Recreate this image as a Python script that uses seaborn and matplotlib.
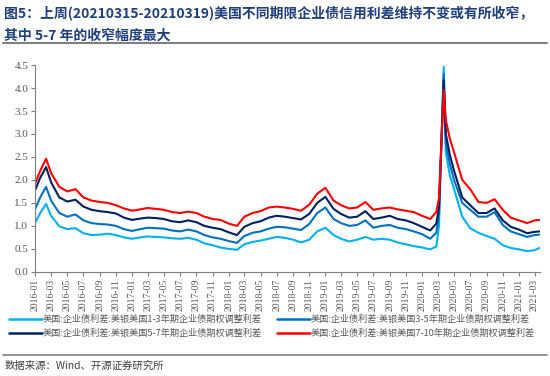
import pandas as pd
import matplotlib.pyplot as plt
import matplotlib.dates as mdates
import seaborn as sns

# dates (monthly, with extra points around the 2016-02 and 2020-03 peaks)
dates = (["2016-01-01", "2016-01-20", "2016-02-11"]
         + [f"2016-{m:02d}-01" for m in range(3, 13)]
         + [f"{y}-{m:02d}-01" for y in (2017, 2018, 2019) for m in range(1, 13)]
         + ["2020-01-01", "2020-02-01", "2020-02-24", "2020-03-05", "2020-03-23",
            "2020-03-31", "2020-04-15"]
         + [f"2020-{m:02d}-01" for m in range(5, 13)]
         + ["2021-01-01", "2021-02-01", "2021-03-01", "2021-03-19"])

oas_1_3 = [1.07, 1.28, 1.48,
           1.22, 0.99, 0.93, 0.95, 0.84, 0.80, 0.81, 0.83, 0.80, 0.75,
           0.72, 0.75, 0.77, 0.76, 0.75, 0.73, 0.72, 0.74, 0.70, 0.62, 0.58, 0.53,
           0.50, 0.48, 0.60, 0.65, 0.68, 0.72, 0.76, 0.74, 0.70, 0.64, 0.70, 0.88,
           0.96, 0.80, 0.72, 0.66, 0.70, 0.76, 0.70, 0.72, 0.70, 0.64, 0.60, 0.56,
           0.53, 0.49, 0.55, 1.00, 4.46, 2.60, 2.10,
           1.80, 1.20, 0.95, 0.85, 0.78, 0.72, 0.58, 0.52,
           0.49, 0.45, 0.47, 0.52]

oas_3_5 = [1.37, 1.62, 1.85,
           1.55, 1.28, 1.20, 1.25, 1.12, 1.06, 1.04, 1.03, 1.00, 0.93,
           0.89, 0.93, 0.96, 0.95, 0.94, 0.90, 0.88, 0.92, 0.88, 0.80, 0.75, 0.72,
           0.67, 0.63, 0.78, 0.85, 0.88, 0.94, 0.98, 0.97, 0.94, 0.91, 1.04, 1.28,
           1.40, 1.15, 1.06, 1.00, 1.02, 1.12, 0.96, 1.00, 1.02, 0.96, 0.93, 0.88,
           0.82, 0.72, 0.85, 1.25, 4.30, 2.80, 2.35,
           2.00, 1.50, 1.35, 1.20, 1.20, 1.30, 1.02, 0.88,
           0.82, 0.76, 0.80, 0.81]

oas_5_7 = [1.78, 2.05, 2.28,
           1.95, 1.62, 1.53, 1.57, 1.42, 1.35, 1.32, 1.30, 1.27, 1.18,
           1.13, 1.16, 1.18, 1.17, 1.15, 1.10, 1.08, 1.12, 1.08, 1.00, 0.96, 0.93,
           0.86, 0.80, 0.98, 1.06, 1.10, 1.18, 1.22, 1.20, 1.17, 1.14, 1.26, 1.50,
           1.63, 1.37, 1.26, 1.18, 1.20, 1.32, 1.15, 1.18, 1.22, 1.15, 1.12, 1.06,
           0.98, 0.90, 1.05, 1.40, 4.17, 3.00, 2.55,
           2.20, 1.62, 1.45, 1.28, 1.28, 1.38, 1.12, 0.98,
           0.92, 0.84, 0.87, 0.88]

oas_7_10 = [1.93, 2.20, 2.46,
            2.15, 1.85, 1.75, 1.80, 1.62, 1.55, 1.52, 1.50, 1.45, 1.38,
            1.33, 1.36, 1.39, 1.37, 1.35, 1.30, 1.28, 1.31, 1.28, 1.20, 1.15, 1.13,
            1.05, 1.00, 1.20, 1.28, 1.32, 1.40, 1.42, 1.40, 1.37, 1.33, 1.46, 1.70,
            1.83, 1.55, 1.45, 1.38, 1.40, 1.52, 1.35, 1.38, 1.40, 1.36, 1.33, 1.30,
            1.22, 1.15, 1.30, 1.60, 3.96, 3.30, 2.90,
            2.60, 2.00, 1.80, 1.52, 1.50, 1.58, 1.35, 1.18,
            1.12, 1.06, 1.12, 1.13]

labels = ["美国:企业债利差:美银美国1-3年期企业债期权调整利差",
          "美国:企业债利差:美银美国3-5年期企业债期权调整利差",
          "美国:企业债利差:美银美国5-7年期企业债期权调整利差",
          "美国:企业债利差:美银美国7-10年期企业债期权调整利差"]
colors = ["#00B0F0", "#0070C0", "#002060", "#FF0000"]

df = pd.DataFrame({"date": pd.to_datetime(dates)})
for lab, vals in zip(labels, [oas_1_3, oas_3_5, oas_5_7, oas_7_10]):
    df[lab] = vals
long_df = df.melt(id_vars="date", var_name="series", value_name="spread")

sns.set_style("white")
plt.rcParams['font.family'] = ['Noto Sans CJK SC', 'DejaVu Sans']

fig = plt.figure(figsize=(5.5, 3.76), dpi=100)
ax = fig.add_axes([0.064, 0.277, 0.918, 0.55])

sns.lineplot(data=long_df, x="date", y="spread", hue="series", hue_order=labels,
             palette=colors, linewidth=1.5, ax=ax, legend=False)

ax.set_ylim(0, 4.5)
ax.set_yticks([i * 0.5 for i in range(10)])
ax.set_yticklabels([f"{i * 0.5:.1f}" for i in range(10)],
                   family="Liberation Serif", fontsize=8, color="#595959")
ax.set_xlim(pd.Timestamp("2016-01-01"), pd.Timestamp("2021-03-22"))
ax.xaxis.set_major_locator(mdates.MonthLocator(bymonth=[1, 3, 5, 7, 9, 11]))
ax.xaxis.set_major_formatter(mdates.DateFormatter("%Y-%m"))
for t in ax.get_xticklabels():
    t.set_rotation(90)
    t.set_family("Liberation Serif")
    t.set_fontsize(7)
    t.set_color("#595959")
ax.set_xlabel("")
ax.set_ylabel("")
for s in ["top", "right"]:
    ax.spines[s].set_visible(False)
for s in ["left", "bottom"]:
    ax.spines[s].set_color("#7f7f7f")
    ax.spines[s].set_linewidth(0.8)
ax.tick_params(axis="both", which="major", length=3, width=0.8, color="#7f7f7f",
               direction="out", bottom=True, left=True, pad=2)

# legend in two columns under the axis (row-wise order: 1-3, 3-5 / 5-7, 7-10)
handles = [plt.Line2D([], [], color=c, lw=1.8) for c in colors]
order = [0, 2, 1, 3]
fig.legend([handles[i] for i in order], [labels[i] for i in order],
           loc="upper left", bbox_to_anchor=(0.01, 0.172), ncol=2, frameon=False,
           fontsize=6.6, handlelength=3.6, handletextpad=0.1, columnspacing=1.6,
           labelspacing=0.5, labelcolor="#595959", borderaxespad=0.0)

# title
fig.text(0.008, 0.985, "图5：上周(20210315-20210319)美国不同期限企业债信用利差维持不变或有所收窄，",
         fontsize=10, fontweight="bold", color="#1F3F7A", va="top", ha="left")
fig.text(0.008, 0.925, "其中 5-7 年的收窄幅度最大",
         fontsize=10, fontweight="bold", color="#1F3F7A", va="top", ha="left")
fig.add_artist(plt.Line2D([0.005, 0.995], [0.885, 0.885], color="#7f7f7f", lw=1.5))

# source
fig.add_artist(plt.Line2D([0.005, 0.995], [0.057, 0.057], color="#7f7f7f", lw=1.2))
fig.text(0.008, 0.028, "数据来源：Wind、开源证券研究所", fontsize=7.5, color="#404040",
         va="center", ha="left")

fig.savefig("out.png", dpi=100)
plt.close(fig)
